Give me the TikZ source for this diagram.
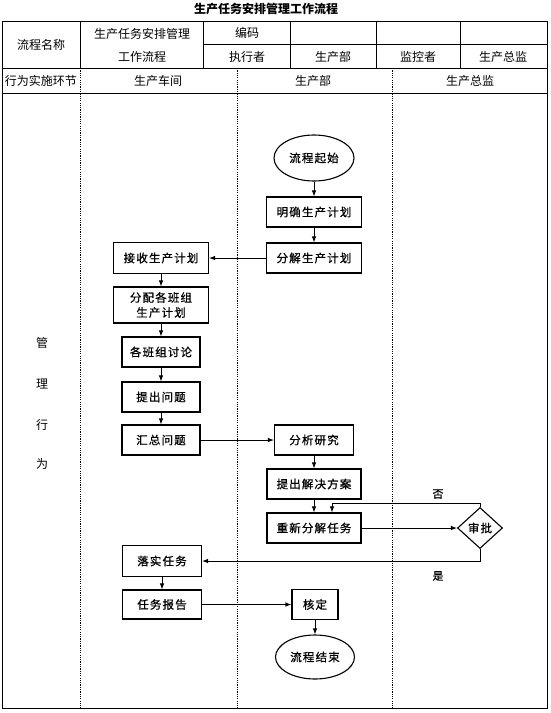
\documentclass[tikz,border=0pt]{standalone}
\usepackage{fontspec}
\setmainfont{Noto Sans CJK SC}
\newfontfamily\boxf[LetterSpace=10,FakeBold=0.8]{Noto Sans CJK SC}
\usetikzlibrary{shapes.geometric,arrows.meta}
\begin{document}
\begin{tikzpicture}[x=1pt,y=-1pt,
  tline/.style={line width=0.9pt},
  lane/.style={line width=0.8pt,dash pattern=on 1.2pt off 1.1pt},
  hdr/.style={font=\fontsize{12}{14}\selectfont,inner sep=0pt},
  box/.style={draw,line width=1.1pt,inner sep=0pt,font=\boxf\fontsize{11.5}{15}\selectfont,align=center},
  oval/.style={draw,ellipse,line width=1.1pt,inner sep=0pt,font=\boxf\fontsize{11.5}{15}\selectfont},
  dia/.style={draw,diamond,line width=1.1pt,inner sep=0pt,font=\boxf\fontsize{11.5}{15}\selectfont},
  arr/.style={line width=0.9pt,-{Latex[length=6pt,width=4.5pt]}},
  lbl/.style={font=\boxf\fontsize{11}{13}\selectfont,inner sep=0pt}]
\useasboundingbox (0,0) rectangle (550,713);
% title
\node[font=\bfseries\fontsize{12}{14}\selectfont,inner sep=0pt] (title) at (266,9) {生产任务安排管理工作流程};
% table frame
\draw[tline] (2,21) rectangle (547,708);
\draw[tline] (2,68) -- (547,68);
\draw[tline] (2,93) -- (547,93);
\draw[tline] (203,44) -- (547,44);
\draw[tline] (80,21) -- (80,68);
\draw[tline] (203,21) -- (203,68);
\draw[tline] (290,21) -- (290,68);
\draw[tline] (376,21) -- (376,68);
\draw[tline] (460,21) -- (460,68);
% lanes
\draw[lane] (80,68) -- (80,708);
\draw[lane] (237,68) -- (237,708);
\draw[lane] (392,68) -- (392,708);
% header texts
\node[hdr] (h1) at (41,45) {流程名称};
\node[hdr] (h2) at (142,34) {生产任务安排管理};
\node[hdr] (h3) at (142,57) {工作流程};
\node[hdr] (h4) at (247,33) {编码};
\node[hdr] (h5) at (247,57) {执行者};
\node[hdr] (h6) at (333,57) {生产部};
\node[hdr] (h7) at (418,57) {监控者};
\node[hdr] (h8) at (503,57) {生产总监};
\node[hdr] (r1) at (41,81) {行为实施环节};
\node[hdr] (r2) at (158,81) {生产车间};
\node[hdr] (r3) at (313,81) {生产部};
\node[hdr] (r4) at (470,81) {生产总监};
\node[hdr] (v1) at (42,343) {管};
\node[hdr] (v2) at (42,384) {理};
\node[hdr] (v3) at (42,425) {行};
\node[hdr] (v4) at (42,464) {为};
% flow nodes
\node[oval,minimum width=80pt,minimum height=46pt] (start) at (314,158) {流程起始};
\node[box,minimum width=95pt,minimum height=30pt] (mq) at (314,212) {明确生产计划};
\node[box,minimum width=95pt,minimum height=30pt] (fj) at (314,258) {分解生产计划};
\node[box,minimum width=95pt,minimum height=31pt] (js) at (161,258) {接收生产计划};
\node[box,minimum width=95pt,minimum height=36pt] (fp) at (161,305) {分配各班组\\生产计划};
\node[box,minimum width=78pt,minimum height=30pt] (tl) at (161,352) {各班组讨论};
\node[box,minimum width=78pt,minimum height=30pt] (tc) at (161,397) {提出问题};
\node[box,minimum width=78pt,minimum height=30pt] (hz) at (161,440) {汇总问题};
\node[box,minimum width=79pt,minimum height=30pt] (fx) at (314,440) {分析研究};
\node[box,minimum width=94pt,minimum height=30pt] (jj) at (314,484) {提出解决方案};
\node[box,minimum width=94pt,minimum height=30pt] (cx) at (314,528) {重新分解任务};
\node[dia,minimum width=45pt,minimum height=41pt] (sp) at (480,528) {审批};
\node[box,minimum width=79pt,minimum height=31pt] (ls) at (162,561) {落实任务};
\node[box,minimum width=79pt,minimum height=29pt] (bg) at (162,604.5) {任务报告};
\node[box,minimum width=46pt,minimum height=30pt] (hd) at (315,604.5) {核定};
\node[oval,minimum width=79pt,minimum height=44pt] (end) at (315,657) {流程结束};
% connectors
\draw[arr] (start) -- (mq);
\draw[arr] (mq) -- (fj);
\draw[arr] (fj) -- (js);
\draw[arr] (js) -- (fp);
\draw[arr] (fp) -- (tl);
\draw[arr] (tl) -- (tc);
\draw[arr] (tc) -- (hz);
\draw[arr] (hz) -- (fx);
\draw[arr] (fx) -- (jj);
\draw[arr] (jj) -- (cx);
\draw[arr] (cx) -- (sp);
\coordinate (no1) at (480,503);
\coordinate (no2) at (332,503);
\draw[arr] (sp.north) -- (no1) -- (no2) -- (no2 |- cx.north);
\coordinate (yes1) at (480,561);
\draw[arr] (sp.south) -- (yes1) -- (ls.east |- yes1);
\draw[arr] (ls) -- (bg);
\draw[arr] (bg) -- (hd);
\draw[arr] (hd) -- (end);
\node[lbl] (lno) at (438,494) {否};
\node[lbl] (lyes) at (438,576) {是};
\end{tikzpicture}
\end{document}
